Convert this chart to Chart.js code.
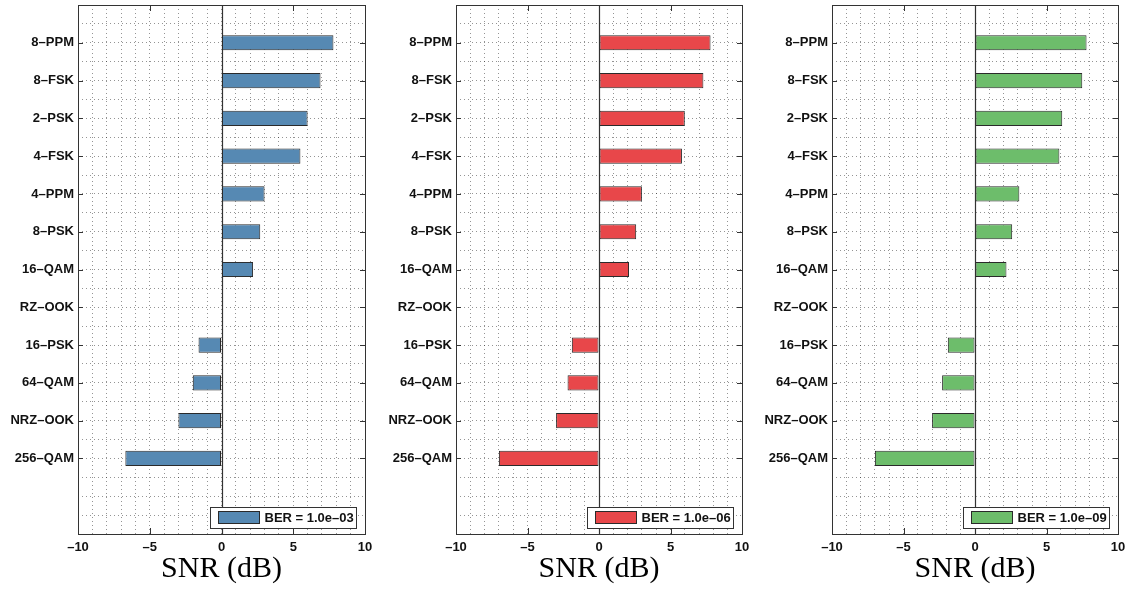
<!DOCTYPE html>
<html>
<head>
<meta charset="utf-8">
<title>SNR required per modulation format</title>
<script src="https://cdn.jsdelivr.net/npm/chart.js@4/dist/chart.umd.min.js"></script>
<style>
  html, body { margin: 0; padding: 0; background: #fff; }
  #wrap { position: relative; width: 1136px; height: 589px; overflow: hidden; background: #fff; }
  .panel { position: absolute; top: 0; }
</style>
</head>
<body>
<div id="wrap">
  <canvas id="c1" class="panel" style="left:0px" width="380" height="589"></canvas>
  <canvas id="c2" class="panel" style="left:380px" width="375" height="589"></canvas>
  <canvas id="c3" class="panel" style="left:755px" width="381" height="589"></canvas>
</div>
<script>
// Modulation formats, listed from the top of each panel down
const categories = ['8–PPM', '8–FSK', '2–PSK', '4–FSK', '4–PPM', '8–PSK', '16–QAM',
                    'RZ–OOK', '16–PSK', '64–QAM', 'NRZ–OOK', '256–QAM'];

// Required SNR (dB) at each target bit error rate
const snrBer1e3 = [7.8, 6.9, 6.0, 5.5, 3.0, 2.7, 2.2, 0.0, -1.6, -2.0, -3.0, -6.7];
const snrBer1e6 = [7.8, 7.3, 6.0, 5.8, 3.0, 2.6, 2.1, 0.0, -1.9, -2.2, -3.0, -7.0];
const snrBer1e9 = [7.8, 7.5, 6.1, 5.9, 3.1, 2.6, 2.2, 0.0, -1.9, -2.3, -3.0, -7.0];

const berLabels = ['BER = 1.0e–03', 'BER = 1.0e–06', 'BER = 1.0e–09'];

// SNR axis range and the ticks that carry a label
const snrMin = -10;
const snrMax = 10;
const snrLabelTicks = [-10, -5, 0, 5, 10];

// Empty slots kept below the last format
const emptySlotsBelow = 2;

const FONT = '"Liberation Sans", Arial, Helvetica, sans-serif';
Chart.defaults.font.family = FONT;
Chart.defaults.color = '#111';

const isWhole = v => Math.abs(v - Math.round(v)) < 1e-6;

// Box, inward tick marks, zero baseline and an in-plot legend
const framePlugin = {
  id: 'frame',
  beforeDatasetsDraw(chart) {
    const { ctx, chartArea: a, scales: { x } } = chart;
    const x0 = Math.round(x.getPixelForValue(0)) + 0.5;
    ctx.save();
    ctx.strokeStyle = '#333';
    ctx.lineWidth = 1.2;
    ctx.beginPath();
    ctx.moveTo(x0, a.top);
    ctx.lineTo(x0, a.bottom);
    ctx.stroke();
    ctx.restore();
  },
  afterDatasetsDraw(chart) {
    const { ctx, chartArea: a, scales: { x, y } } = chart;
    ctx.save();
    ctx.strokeStyle = '#333';
    ctx.lineWidth = 1;
    ctx.beginPath();
    snrLabelTicks.forEach(v => {
      const px = Math.round(x.getPixelForValue(v)) + 0.5;
      ctx.moveTo(px, a.top); ctx.lineTo(px, a.top + 6);
      ctx.moveTo(px, a.bottom); ctx.lineTo(px, a.bottom - 6);
    });
    categories.forEach((c, i) => {
      const py = Math.round(y.getPixelForValue(i + 1)) + 0.5;
      ctx.moveTo(a.left, py); ctx.lineTo(a.left + 5, py);
      ctx.moveTo(a.right, py); ctx.lineTo(a.right - 5, py);
    });
    ctx.stroke();
    ctx.strokeRect(Math.round(a.left) + 0.5, Math.round(a.top) + 0.5,
                   Math.round(a.right - a.left), Math.round(a.bottom - a.top));

    // legend
    const ds = chart.data.datasets[0];
    ctx.font = 'bold 13px ' + FONT;
    const tw = ctx.measureText(ds.label).width;
    const boxW = Math.round(8 + 41 + 5 + tw + 3), boxH = 21;
    const bx = Math.round(a.right - 9 - boxW) + 0.5;
    const by = Math.round(a.bottom - 6 - boxH) + 0.5;
    ctx.fillStyle = '#fff';
    ctx.fillRect(bx, by, boxW, boxH);
    ctx.strokeStyle = '#333';
    ctx.strokeRect(bx, by, boxW, boxH);
    ctx.fillStyle = ds.backgroundColor;
    ctx.fillRect(bx + 8, by + 4, 41, 12);
    ctx.strokeStyle = ds.borderColor;
    ctx.strokeRect(bx + 8, by + 4, 41, 12);
    ctx.fillStyle = '#111';
    ctx.textAlign = 'left';
    ctx.textBaseline = 'middle';
    ctx.fillText(ds.label, bx + 8 + 41 + 5, by + boxH / 2 + 0.5);
    ctx.restore();
  }
};

function makePanel(canvasId, values, label, color, axisWidth, padRight) {
  const slots = categories.length + emptySlotsBelow;
  return new Chart(document.getElementById(canvasId), {
    type: 'bar',
    data: {
      datasets: [{
        label: label,
        data: values.map((v, i) => ({ x: v, y: i + 1 })),
        backgroundColor: color,
        borderColor: '#2a2a2a',
        borderWidth: 1,
        borderSkipped: false,
        // grid step is half a slot, so 0.8 of it is 0.4 of a slot
        barPercentage: 0.8,
        categoryPercentage: 1
      }]
    },
    options: {
      indexAxis: 'y',
      responsive: false,
      animation: false,
      layout: { padding: { top: 5, right: padRight, left: 0, bottom: 0 } },
      plugins: { legend: { display: false }, tooltip: { enabled: false } },
      scales: {
        x: {
          type: 'linear',
          min: snrMin,
          max: snrMax,
          afterFit: s => { s.height = 55; s.paddingLeft = 0; s.paddingRight = 0; },
          grid: { color: 'rgba(0,0,0,0.42)', lineWidth: 1, drawTicks: false },
          border: { display: false, dash: [1, 3] },
          ticks: {
            stepSize: 1,
            autoSkip: false,
            maxRotation: 0,
            padding: 6,
            font: { size: 13, weight: 'bold' },
            callback: v => snrLabelTicks.includes(v) ? (v < 0 ? '–' + Math.abs(v) : String(v)) : ''
          },
          title: {
            display: true,
            text: 'SNR (dB)',
            color: '#000',
            font: { family: '"Liberation Serif", "Times New Roman", serif', size: 30, weight: 'normal' },
            padding: { top: 0, bottom: 2 }
          }
        },
        y: {
          type: 'linear',
          reverse: true,
          offset: false,
          min: 0,
          max: slots,
          afterFit: s => { s.width = axisWidth; s.paddingTop = 0; s.paddingBottom = 0; },
          grid: { color: 'rgba(0,0,0,0.42)', lineWidth: 1, drawTicks: false, offset: false },
          border: { display: false, dash: [1, 3] },
          ticks: {
            stepSize: 0.5,
            autoSkip: false,
            padding: 4,
            font: { size: 13, weight: 'bold' },
            callback: v => (isWhole(v) && v >= 1 && v <= categories.length) ? categories[Math.round(v) - 1] : ''
          }
        }
      }
    },
    plugins: [framePlugin]
  });
}

makePanel('c1', snrBer1e3, berLabels[0], '#5689b3', 78, 15);
makePanel('c2', snrBer1e6, berLabels[1], '#e8474a', 76, 13);
makePanel('c3', snrBer1e9, berLabels[2], '#6dbd6b', 77, 18);
</script>
</body>
</html>
